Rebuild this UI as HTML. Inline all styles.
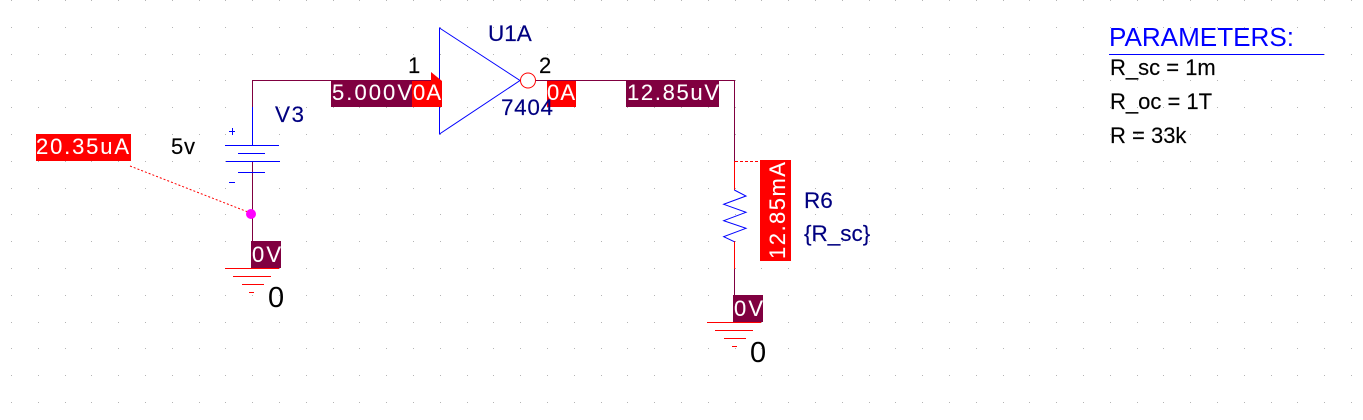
<!DOCTYPE html>
<html>
<head>
<meta charset="utf-8">
<style>
html,body{margin:0;padding:0;background:#fff;width:1363px;height:420px;overflow:hidden}
svg{display:block;position:absolute;left:0;top:0}
text{font-family:"Liberation Sans",sans-serif}
.w{font-size:22px;fill:#fff;stroke:#fff;stroke-width:.1}
.n{font-size:22.5px;fill:#000080;stroke:#000080;stroke-width:.15}
.b{font-size:22px;fill:#000;stroke:#000;stroke-width:.15}
.c{shape-rendering:crispEdges;fill:none;stroke-width:1}
</style>
</head>
<body>
<svg id="s" width="1363" height="420" viewBox="0 0 1363 420">
<g id="grid" fill="#b4b4b4" shape-rendering="crispEdges"></g>

<g class="c">
<path d="M252.5 107V80.5H439.5M536 80.5H734.5V161.5M252.5 161V268M734.5 269V295" stroke="#800040"/>
<path d="M252.5 107V145M225 145.5H279M238 153.5H265M226 161.5H280M238 172.5H265" stroke="#0000ff"/>
<path d="M229 131.5H235M232.5 128V135M229 182.5H235" stroke="#0000ff"/>
<path d="M225 268.5H279M233 276.5H271M242 284.5H264M249 292.5H254" stroke="#ff0000"/>
<path d="M707 322.5H761M715 330.5H753M724 338.5H746M732 346.5H737" stroke="#ff0000"/>
<path d="M734.5 161V190M734.5 241V269" stroke="#ff0000"/>
<path d="M735 161.5H760" stroke="#ff0000" stroke-dasharray="3 2"/>
</g>
<path d="M130 166L248 212" stroke="#ff0000" stroke-width="1" stroke-dasharray="2 2" fill="none"/>
<circle cx="251" cy="214" r="5" fill="#ff00ff"/>

<path d="M439.5 28V134L520 80.5Z" fill="none" stroke="#0000ff" stroke-width="1"/>
<circle cx="528" cy="80.5" r="7.5" fill="#fff" stroke="#ff0000" stroke-width="1"/>

<path d="M734.3 190L746 196L723.7 204.3L746 212.3L723.7 220.7L746 228.3L723.7 236.7L734.3 241.7" fill="none" stroke="#0000ff" stroke-width="1"/>

<path d="M431 72L442 81H431Z" fill="#ff0000"/>
<rect x="36" y="134" width="95" height="27" fill="#ff0000"/>
<rect x="251" y="241" width="30" height="27" fill="#800040"/>
<rect x="331" y="81" width="81" height="26" fill="#800040"/>
<rect x="412" y="81" width="30" height="26" fill="#ff0000"/>
<rect x="547" y="81" width="29" height="26" fill="#ff0000"/>
<rect x="626" y="81" width="93" height="26" fill="#800040"/>
<rect x="760" y="160" width="31" height="101" fill="#ff0000"/>
<rect x="733" y="295" width="30" height="27" fill="#800040"/>

<text class="w" x="36" y="154" textLength="93" lengthAdjust="spacing">20.35uA</text>
<text class="w" x="252" y="262" textLength="29" lengthAdjust="spacing">0V</text>
<text class="w" x="332" y="100" textLength="80" lengthAdjust="spacing">5.000V</text>
<text class="w" x="413" y="100" textLength="28" lengthAdjust="spacing">0A</text>
<text class="w" x="547" y="100" textLength="28" lengthAdjust="spacing">0A</text>
<text class="w" x="627" y="100" textLength="92" lengthAdjust="spacing">12.85uV</text>
<text class="w" transform="translate(785 259) rotate(-90)" textLength="97" lengthAdjust="spacing">12.85mA</text>
<text class="w" x="734" y="316" textLength="29" lengthAdjust="spacing">0V</text>

<text class="n" x="275" y="122" textLength="29">V3</text>
<text class="n" x="488" y="41">U1A</text>
<text class="n" x="501" y="115" textLength="52">7404</text>
<text class="n" x="804" y="208">R6</text>
<text class="n" x="804" y="241">{R_sc}</text>

<text class="b" x="171" y="154" textLength="24">5v</text>
<text class="b" x="408" y="73">1</text>
<text class="b" x="539" y="73">2</text>
<text x="268" y="307" font-size="29" fill="#000">0</text>
<text x="750" y="362" font-size="29" fill="#000">0</text>

<text x="1109" y="46" font-size="25.5" fill="#0000ff" textLength="185" lengthAdjust="spacingAndGlyphs">PARAMETERS:</text>
<rect x="1109" y="54" width="215" height="1" fill="#0000ff"/>
<text class="b" x="1110" y="75">R_sc = 1m</text>
<text class="b" x="1110" y="109">R_oc = 1T</text>
<text class="b" x="1110" y="143">R = 33k</text>
</svg>
<script>
var g=document.getElementById('grid'),h='';
for(var i=0;i<51;i++){for(var j=0;j<16;j++){
var x=Math.round(11+i*26.8),y=Math.round(j*26.8);
h+='<rect x="'+x+'" y="'+y+'" width="1" height="1"/>';
}}
g.innerHTML=h;
</script>
</body>
</html>
